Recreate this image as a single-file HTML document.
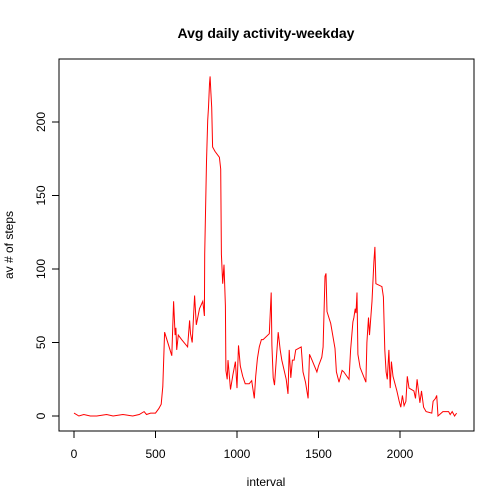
<!DOCTYPE html>
<html><head><meta charset="utf-8"><style>body{margin:0;background:#fff}svg{display:block;font-family:"Liberation Sans",Arial,sans-serif}</style></head>
<body>
<svg id="chart" width="504" height="504" viewBox="0 0 504 504">
<rect width="504" height="504" fill="#fff"/>
<text x="266" y="38" text-anchor="middle" font-size="14" font-weight="bold">Avg daily activity-weekday</text>
<rect x="59" y="59" width="415" height="372" fill="none" stroke="#000" stroke-width="1"/>
<text x="266" y="486" text-anchor="middle" font-size="12">interval</text>
<text transform="translate(13,245) rotate(-90)" text-anchor="middle" font-size="12">av # of steps</text>
<g id="axes"></g>
<path id="line" fill="none" stroke="#ff0000" stroke-width="1"/>
</svg>
<script>
const xTicks=[0,500,1000,1500,2000];
const yTicks=[0,50,100,150,200];
const intervals=[0,30,60,100,140,200,240,300,360,400,430,445,470,500,520,535,545,556,600,611,620,625,630,635,640,660,697,709,715,725,740,750,770,790,800,802,813,820,825,831,835,840,845,850,865,892,900,904,912,920,929,932,940,945,960,975,990,1000,1009,1020,1035,1050,1075,1090,1106,1115,1125,1137,1150,1160,1198,1210,1214,1222,1230,1253,1265,1275,1302,1313,1320,1330,1340,1350,1360,1394,1405,1420,1436,1445,1460,1490,1500,1520,1528,1540,1546,1552,1575,1601,1610,1626,1645,1655,1687,1697,1711,1717,1725,1730,1736,1742,1755,1791,1797,1807,1813,1828,1840,1846,1852,1889,1898,1907,1915,1922,1932,1940,1947,1957,1981,1995,2005,2015,2025,2036,2045,2055,2085,2095,2105,2112,2122,2132,2145,2160,2195,2203,2218,2225,2233,2263,2298,2308,2320,2335,2347];
const steps=[2,0,1,0,0,1,0,1,0,1,3,1,2,2,5,8,20,57,41,78,55,60,45,50,55,52,47,65,56,50,82,62,73,78,68,110,173,201,210,226,231,220,210,183,180,176,168,110,90,103,75,31,25,38,18,28,37,19,48,34,27,22,22,24,12,27,39,47,52,52,56,84,48,26,21,57,45,38,25,15,45,26,38,38,45,47,30,23,12,42,38,30,34,40,47,95,97,71,63,46,30,23,31,30,25,45,64,67,73,70,84,42,33,23,50,67,55,78,105,115,90,88,81,45,30,25,45,19,37,27,17,10,6,14,7,10,27,19,17,12,25,18,9,17,6,3,2,10,12,14,0,3,3,1,3,0,2];
const X=v=>74+v*(400-74)/2000;
const Y=v=>416-v*(416-122)/200;
const ax=document.getElementById('axes');
const NS='http://www.w3.org/2000/svg';
function mk(t,a){const e=document.createElementNS(NS,t);for(const k in a)e.setAttribute(k,a[k]);ax.appendChild(e);return e;}
const xl=mk('line',{x1:X(0),x2:X(2000),y1:431,y2:431,stroke:'#000'});


const yl=mk('line',{x1:59,x2:59,y1:Y(0),y2:Y(200),stroke:'#000'});


xTicks.forEach(t=>{
 const l=mk('line',{x1:X(t),x2:X(t),y1:431,y2:438,stroke:'#000'});
 
 
 const s=mk('text',{x:X(t),y:458,'text-anchor':'middle','font-size':'12'});s.textContent=t;
 
 
});
yTicks.forEach(t=>{
 const l=mk('line',{x1:52,x2:59,y1:Y(t),y2:Y(t),stroke:'#000'});
 
 
 const s=mk('text',{transform:`translate(45,${Y(t)}) rotate(-90)`,'text-anchor':'middle','font-size':'12'});s.textContent=t;
 
 
});
document.getElementById('line').setAttribute('d',intervals.map((v,i)=>(i?'L':'M')+X(v).toFixed(1)+','+Y(steps[i]).toFixed(1)).join(''));
</script>
</body></html>
